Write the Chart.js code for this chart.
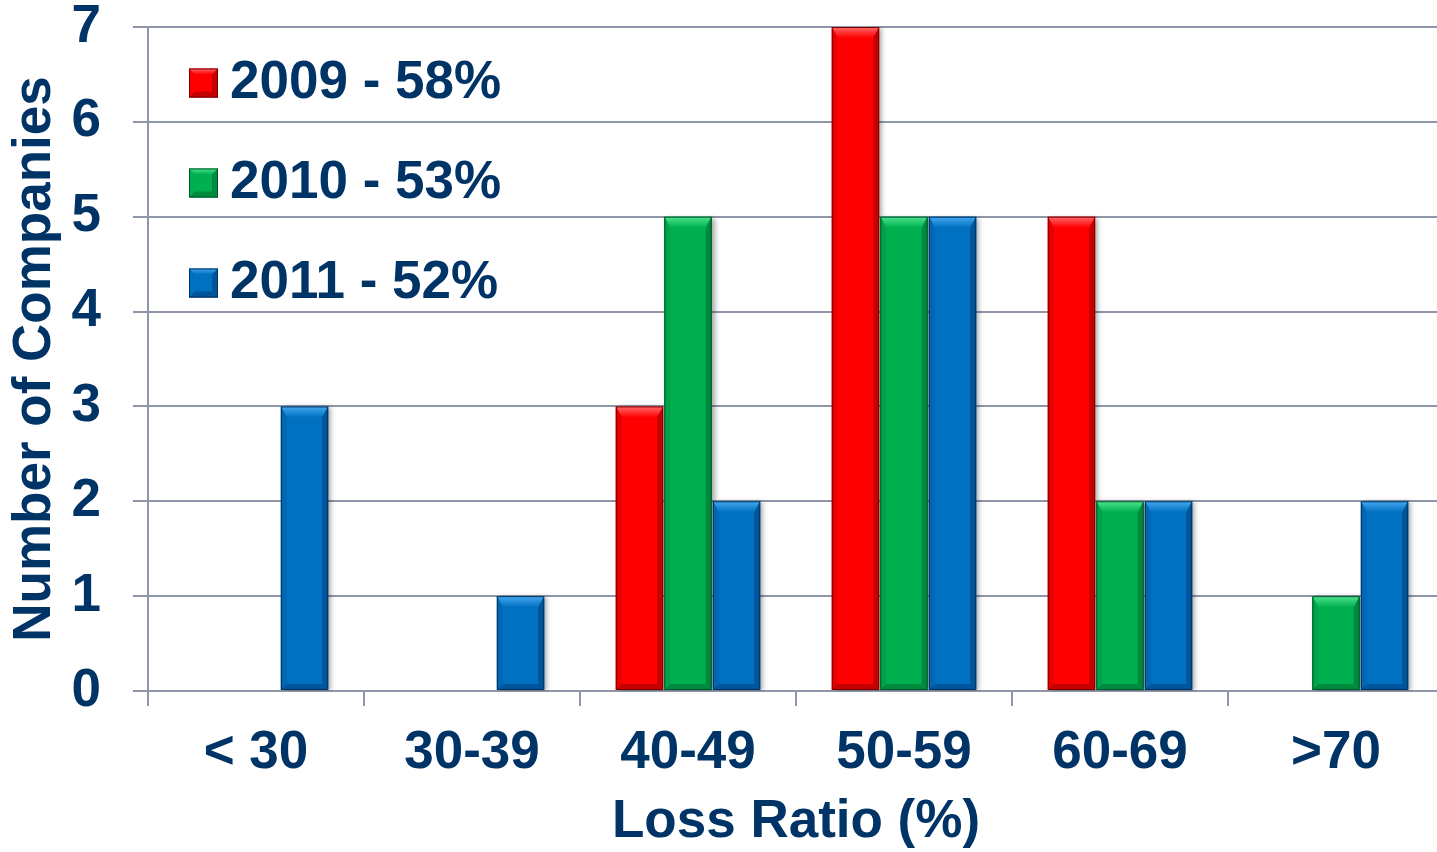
<!DOCTYPE html>
<html>
<head>
<meta charset="utf-8">
<script src="https://cdn.jsdelivr.net/npm/chart.js@4.4.1/dist/chart.umd.min.js"></script>
<style>
  html, body { margin: 0; padding: 0; background: #ffffff; overflow: hidden; }
  canvas { display: block; }
</style>
</head>
<body>
<canvas id="chart" width="1444" height="852"></canvas>
<script>
// Loss ratio distribution by year
const categories = ['< 30', '30-39', '40-49', '50-59', '60-69', '>70'];
const seriesLabels = ['2009 - 58%', '2010 - 53%', '2011 - 52%'];
const values2009 = [0, 0, 3, 7, 5, 0];
const values2010 = [0, 0, 5, 5, 2, 1];
const values2011 = [3, 1, 2, 5, 2, 2];
const yTicks = [0, 1, 2, 3, 4, 5, 6, 7];

const TEXT = '#003366';
const GRID = '#8f96a8';
const FONT = "'Liberation Sans', Arial, sans-serif";

// base colour plus bevel shades for each series
const palettes = [
  { base: '#ff0000', light: '#ff6a6a', side: '#e80000', dark: '#c40000', edge: '#7a0000' },
  { base: '#00b050', light: '#4fe58e', side: '#00a34a', dark: '#008a3e', edge: '#00542a' },
  { base: '#0070c0', light: '#45a8f0', side: '#0067b2', dark: '#00559a', edge: '#00335e' }
];

// Draws bevelled faces on top of each bar the library has laid out
const bevelBars = {
  id: 'bevelBars',
  beforeDatasetsDraw(chart) {
    const ctx = chart.ctx;
    ctx.save();
    ctx.shadowColor = 'rgba(0,0,0,0.35)';
    ctx.shadowBlur = 5;
    ctx.shadowOffsetX = 3;
    ctx.shadowOffsetY = 1;
  },
  afterDatasetsDraw(chart) {
    const ctx = chart.ctx;
    ctx.restore();
    chart.data.datasets.forEach((ds, di) => {
      const meta = chart.getDatasetMeta(di);
      const p = palettes[di];
      meta.data.forEach(bar => {
        const { x, y, base, width } = bar.getProps(['x', 'y', 'base', 'width'], true);
        const h = base - y;
        if (h < 1) return;
        const l = x - width / 2, r = x + width / 2, t = y, b = base;
        const bt = Math.min(11, h / 2), bs = 6, bb = Math.min(6, h / 2);
        ctx.save();
        // top face
        const g = ctx.createLinearGradient(0, t, 0, t + bt);
        g.addColorStop(0, p.light);
        g.addColorStop(1, p.base);
        ctx.fillStyle = g;
        ctx.beginPath();
        ctx.moveTo(l, t); ctx.lineTo(r, t); ctx.lineTo(r - bs, t + bt); ctx.lineTo(l + bs, t + bt); ctx.closePath();
        ctx.fill();
        // left face
        ctx.fillStyle = p.side;
        ctx.beginPath();
        ctx.moveTo(l, t); ctx.lineTo(l + bs, t + bt); ctx.lineTo(l + bs, b - bb); ctx.lineTo(l, b); ctx.closePath();
        ctx.fill();
        // right face
        ctx.fillStyle = p.dark;
        ctx.beginPath();
        ctx.moveTo(r, t); ctx.lineTo(r - bs, t + bt); ctx.lineTo(r - bs, b - bb); ctx.lineTo(r, b); ctx.closePath();
        ctx.fill();
        // bottom face
        ctx.fillStyle = p.dark;
        ctx.beginPath();
        ctx.moveTo(l, b); ctx.lineTo(l + bs, b - bb); ctx.lineTo(r - bs, b - bb); ctx.lineTo(r, b); ctx.closePath();
        ctx.fill();
        // outline
        ctx.strokeStyle = p.edge;
        ctx.lineWidth = 1;
        ctx.strokeRect(l + 0.5, t + 0.5, width - 1, h - 1);
        ctx.restore();
      });
    });
  }
};

// Legend drawn inside the plot area, upper left
const insideLegend = {
  id: 'insideLegend',
  afterDraw(chart) {
    const ctx = chart.ctx;
    const area = chart.chartArea;
    const box = 29;
    chart.data.datasets.forEach((ds, i) => {
      const p = palettes[i];
      const cy = area.top + 56 + i * 100;
      const bx = area.left + 41, by = cy - box / 2;
      ctx.save();
      ctx.fillStyle = p.base;
      ctx.fillRect(bx, by, box, box);
      const s = 6;
      const g = ctx.createLinearGradient(0, by, 0, by + s);
      g.addColorStop(0, p.light); g.addColorStop(1, p.base);
      ctx.fillStyle = g;
      ctx.beginPath();
      ctx.moveTo(bx, by); ctx.lineTo(bx + box, by); ctx.lineTo(bx + box - s, by + s); ctx.lineTo(bx + s, by + s); ctx.closePath(); ctx.fill();
      ctx.fillStyle = p.dark;
      ctx.beginPath();
      ctx.moveTo(bx, by + box); ctx.lineTo(bx + s, by + box - s); ctx.lineTo(bx + box - s, by + box - s); ctx.lineTo(bx + box, by + box); ctx.closePath(); ctx.fill();
      ctx.beginPath();
      ctx.moveTo(bx + box, by); ctx.lineTo(bx + box - s, by + s); ctx.lineTo(bx + box - s, by + box - s); ctx.lineTo(bx + box, by + box); ctx.closePath(); ctx.fill();
      ctx.strokeStyle = p.edge; ctx.lineWidth = 1;
      ctx.strokeRect(bx + 0.5, by + 0.5, box - 1, box - 1);
      ctx.fillStyle = TEXT;
      ctx.font = 'bold 53px ' + FONT;
      ctx.textBaseline = 'middle';
      ctx.textAlign = 'left';
      ctx.fillText(ds.label, bx + box + 12, cy);
      ctx.restore();
    });
  }
};

const datasets = [values2009, values2010, values2011].map((vals, i) => ({
  label: seriesLabels[i],
  data: vals,
  backgroundColor: palettes[i].base,
  borderWidth: 0,
  categoryPercentage: 0.674,
  barPercentage: 0.975
}));

new Chart(document.getElementById('chart'), {
  type: 'bar',
  data: { labels: categories, datasets },
  options: {
    responsive: false,
    animation: false,
    devicePixelRatio: 1,
    layout: { padding: 0 },
    plugins: { legend: { display: false }, tooltip: { enabled: false } },
    scales: {
      x: {
        afterFit(scale) { scale.height = 161; scale.paddingLeft = 0; scale.paddingRight = 0; },
        grid: { drawOnChartArea: false, drawTicks: true, tickLength: 15, color: GRID, lineWidth: 2, offset: true },
        border: { display: true, color: GRID, width: 2 },
        ticks: { color: TEXT, padding: 16, font: { family: FONT, size: 53, weight: 'bold', lineHeight: 1.2 } },
        title: {
          display: true, text: 'Loss Ratio (%)', color: TEXT,
          font: { family: FONT, size: 53, weight: 'bold', lineHeight: 1.1 },
          padding: { top: 0, bottom: 0 }
        }
      },
      y: {
        min: 0, max: 7,
        afterFit(scale) { scale.width = 148; scale.paddingTop = 27; scale.paddingBottom = 0; },
        afterBuildTicks(scale) { scale.ticks = yTicks.map(v => ({ value: v })); },
        grid: { color: GRID, lineWidth: 2, tickLength: 15, drawTicks: true },
        border: { display: true, color: GRID, width: 2 },
        ticks: { color: TEXT, padding: 32, font: { family: FONT, size: 53, weight: 'bold', lineHeight: 1.2 } },
        title: {
          display: true, text: 'Number of Companies', color: TEXT,
          font: { family: FONT, size: 53, weight: 'bold', lineHeight: 1.2 },
          padding: { top: 4, bottom: 0 }
        }
      }
    }
  },
  plugins: [bevelBars, insideLegend]
});
</script>
</body>
</html>
